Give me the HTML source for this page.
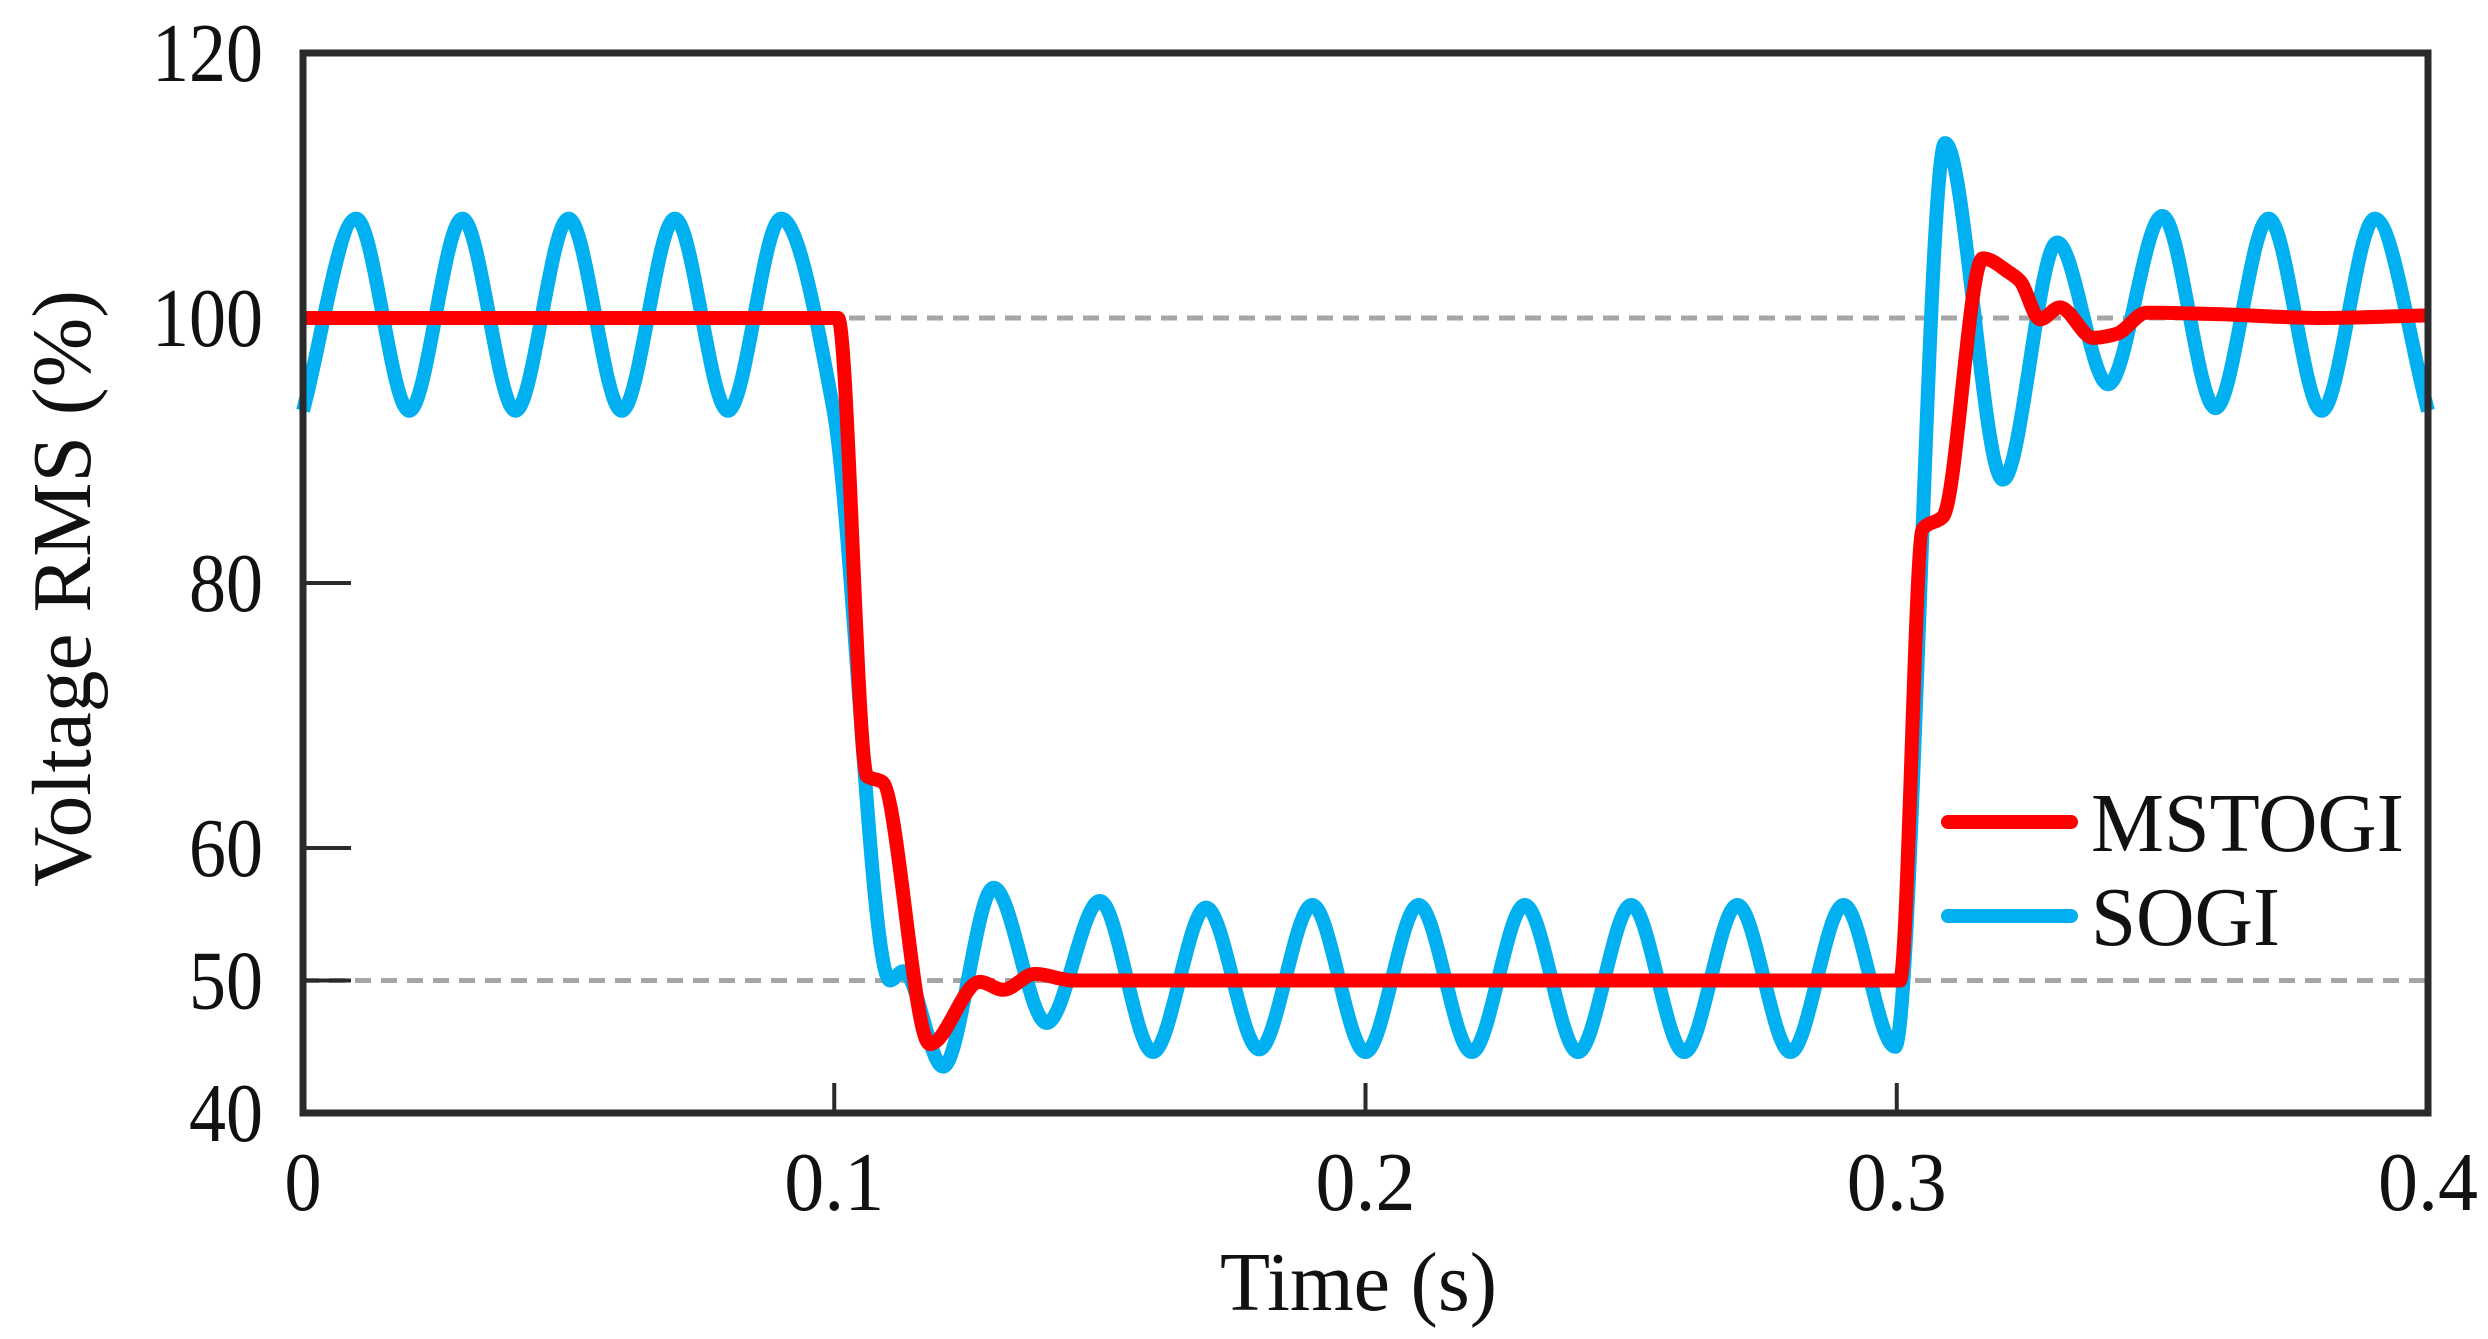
<!DOCTYPE html>
<html><head><meta charset="utf-8"><style>
html,body{margin:0;padding:0;background:#fff;}
svg{display:block;font-family:"Liberation Serif",serif;}
</style></head><body>
<svg id="chart" width="2488" height="1339" viewBox="0 0 2488 1339" xmlns="http://www.w3.org/2000/svg">
<g id="grid"></g>
<g id="series"></g>
<g id="axes"></g>
<g id="legend">
  <line x1="1948" y1="822" x2="2071" y2="822" stroke="#ff0000" stroke-width="14" stroke-linecap="round"/>
  <text x="2091" y="851" font-size="84" fill="#111" textLength="313" lengthAdjust="spacingAndGlyphs">MSTOGI</text>
  <line x1="1948" y1="916" x2="2071" y2="916" stroke="#00b0f0" stroke-width="14" stroke-linecap="round"/>
  <text x="2091" y="945" font-size="84" fill="#111" textLength="189" lengthAdjust="spacingAndGlyphs">SOGI</text>
</g>
</svg>
<script>
const sogiT=[0,0.01,0.02,0.03,0.04,0.05,0.06,0.07,0.08,0.09,0.0998,0.1105,0.113,0.1205,0.13,0.14,0.15,0.16,0.17,0.18,0.19,0.2,0.21,0.22,0.23,0.24,0.25,0.26,0.27,0.28,0.29,0.2997,0.3091,0.32,0.3302,0.3398,0.35,0.36,0.37,0.38,0.39,0.4];
const sogiV=[93,107.5,93,107.5,93,107.5,93,107.5,93,107.5,93.2,50,50.7,43.5,57,46.8,56,44.6,55.5,44.8,55.7,44.6,55.7,44.6,55.7,44.6,55.7,44.6,55.7,44.6,55.7,45,113.2,87.8,105.7,95,107.7,93.2,107.5,93,107.5,93];
const mstogiT=[0,0.1007,0.1062,0.109,0.118,0.1274,0.1318,0.1378,0.145,0.3006,0.3049,0.3087,0.3162,0.3213,0.3232,0.327,0.3307,0.337,0.3414,0.347,0.3596,0.38,0.4];
const mstogiV=[100,100,65.4,65,45.2,49.9,49.3,50.5,50,50,84.1,85,104.5,103.4,102.8,99.9,100.8,98.5,98.8,100.4,100.3,100.0,100.2];
const yTicks=[120,100,80,60,50,40];
const yTickMarks=[80,60,50];
const xTicks=[0,0.1,0.2,0.3,0.4];
const xTickMarks=[0.1,0.2,0.3];
const refLines=[100,50];

const L=303,R=2428,T=53,B=1113;
const xs=t=>L+t/0.4*(R-L);
const ys=v=>T+(120-v)/80*(B-T);
const NS="http://www.w3.org/2000/svg";
function mk(tag,parent){const e=document.createElementNS(NS,tag);parent.appendChild(e);return e;}

function monoPath(tx,vy){
  const X=tx.map(xs),Y=vy.map(ys),n=X.length;
  const d=[],m=[];
  for(let i=0;i<n-1;i++)d.push((Y[i+1]-Y[i])/(X[i+1]-X[i]));
  for(let i=0;i<n;i++){
    if(i===0)m.push(d[0]);else if(i===n-1)m.push(d[n-2]);
    else if(d[i-1]*d[i]<=0)m.push(0);
    else{const w1=2*(X[i+1]-X[i])+(X[i]-X[i-1]),w2=(X[i+1]-X[i])+2*(X[i]-X[i-1]);m.push((w1+w2)/(w1/d[i-1]+w2/d[i]));}
  }
  let p="M"+X[0]+","+Y[0];
  for(let i=0;i<n-1;i++){const h=(X[i+1]-X[i])/3;
    p+=" C"+(X[i]+h)+","+(Y[i]+m[i]*h)+" "+(X[i+1]-h)+","+(Y[i+1]-m[i+1]*h)+" "+X[i+1]+","+Y[i+1];}
  return p;
}

const grid=document.getElementById('grid');
refLines.forEach(v=>{const l=mk('line',grid);


l.setAttribute('x1',L);l.setAttribute('x2',R);l.setAttribute('y1',ys(v));l.setAttribute('y2',ys(v));
l.setAttribute('stroke','#a6a6a6');l.setAttribute('stroke-width','5');l.setAttribute('stroke-dasharray','16 10');});

const sg=document.getElementById('series');
const ps=mk('path',sg);


ps.setAttribute('d',monoPath(sogiT,sogiV));ps.setAttribute('fill','none');ps.setAttribute('stroke','#00b0f0');ps.setAttribute('stroke-width','14');ps.setAttribute('stroke-linejoin','round');
const pm=mk('path',sg);


pm.setAttribute('d',monoPath(mstogiT,mstogiV));pm.setAttribute('fill','none');pm.setAttribute('stroke','#ff0000');pm.setAttribute('stroke-width','14');pm.setAttribute('stroke-linejoin','round');

const ax=document.getElementById('axes');
const box=mk('rect',ax);


box.setAttribute('x',L);box.setAttribute('y',T);box.setAttribute('width',R-L);box.setAttribute('height',B-T);
box.setAttribute('fill','none');box.setAttribute('stroke','#2a2a2a');box.setAttribute('stroke-width','7');
yTickMarks.forEach(v=>{const l=mk('line',ax);


l.setAttribute('x1',L);l.setAttribute('x2',L+48);l.setAttribute('y1',ys(v));l.setAttribute('y2',ys(v));l.setAttribute('stroke','#2a2a2a');l.setAttribute('stroke-width','4');});
xTickMarks.forEach(t=>{const l=mk('line',ax);


l.setAttribute('x1',xs(t));l.setAttribute('x2',xs(t));l.setAttribute('y1',B);l.setAttribute('y2',B-30);l.setAttribute('stroke','#2a2a2a');l.setAttribute('stroke-width','4');});
yTicks.forEach(v=>{const t=mk('text',ax);


const s=String(v);
t.setAttribute('x',263-s.length*37);t.setAttribute('y',ys(v)+28);t.setAttribute('font-size','84');t.setAttribute('fill','#111');
t.setAttribute('textLength',s.length*37);t.setAttribute('lengthAdjust','spacingAndGlyphs');t.textContent=s;});
xTicks.forEach(v=>{const t=mk('text',ax);


const s=String(v);const w=s.length===1?37:100;
t.setAttribute('x',xs(v)-w/2);t.setAttribute('y',1210);t.setAttribute('font-size','84');t.setAttribute('fill','#111');
t.setAttribute('textLength',w);t.setAttribute('lengthAdjust','spacingAndGlyphs');t.textContent=s;});
const xt=mk('text',ax);


xt.setAttribute('x',1220);xt.setAttribute('y',1310);xt.setAttribute('font-size','84');xt.setAttribute('fill','#111');
xt.setAttribute('textLength','277');xt.setAttribute('lengthAdjust','spacingAndGlyphs');xt.textContent='Time (s)';
const yt=mk('text',ax);


yt.setAttribute('transform','translate(90,887) rotate(-90)');
yt.setAttribute('x',0);yt.setAttribute('y',0);yt.setAttribute('font-size','84');yt.setAttribute('fill','#111');
yt.setAttribute('textLength','597');yt.setAttribute('lengthAdjust','spacingAndGlyphs');yt.textContent='Voltage RMS (%)';
</script>
</body></html>
